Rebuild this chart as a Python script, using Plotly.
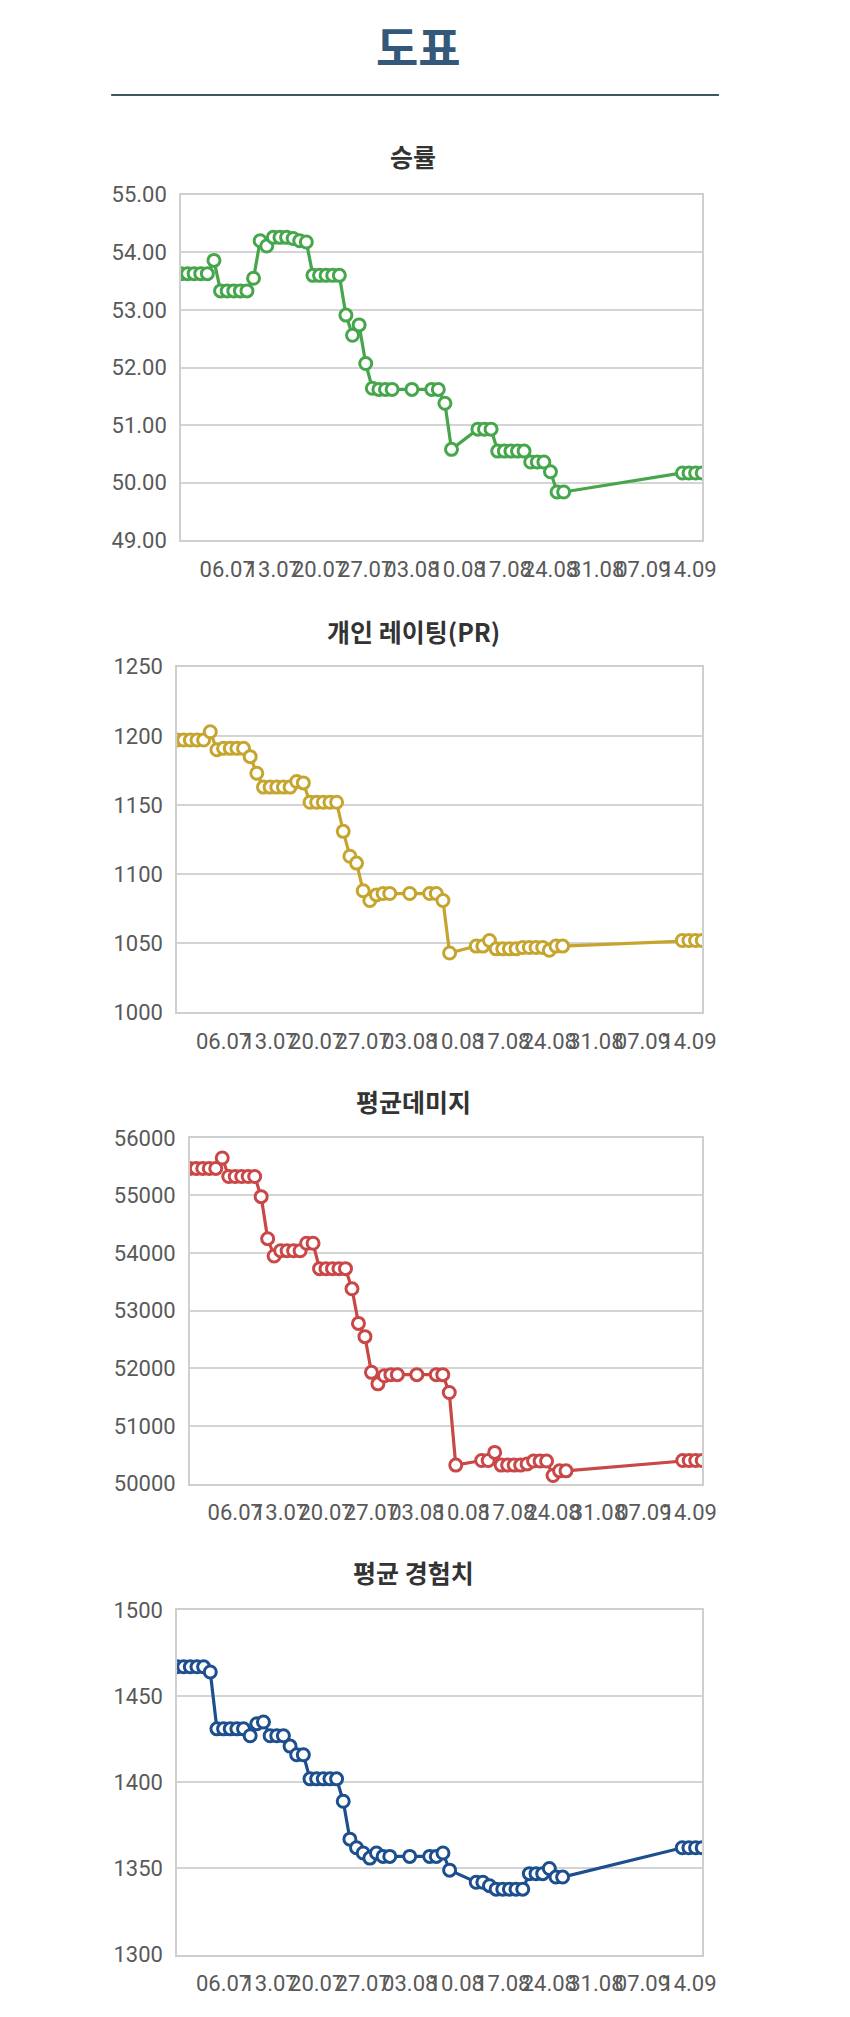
import plotly.graph_objects as go
from plotly.subplots import make_subplots

# measurement dates (one point per recorded day)
dates = [
    "2024-06-29", "2024-06-30", "2024-07-01", "2024-07-02", "2024-07-03", "2024-07-04",
    "2024-07-05", "2024-07-06", "2024-07-07", "2024-07-08", "2024-07-09", "2024-07-10",
    "2024-07-11", "2024-07-12", "2024-07-13", "2024-07-14", "2024-07-15", "2024-07-16",
    "2024-07-17", "2024-07-18", "2024-07-19", "2024-07-20", "2024-07-21", "2024-07-22",
    "2024-07-23", "2024-07-24", "2024-07-25", "2024-07-26", "2024-07-27", "2024-07-28",
    "2024-07-29", "2024-07-30", "2024-07-31", "2024-08-03", "2024-08-06", "2024-08-07",
    "2024-08-08", "2024-08-09", "2024-08-13", "2024-08-14", "2024-08-15", "2024-08-16",
    "2024-08-17", "2024-08-18", "2024-08-19", "2024-08-20", "2024-08-21", "2024-08-22",
    "2024-08-23", "2024-08-24", "2024-08-25", "2024-08-26", "2024-09-13", "2024-09-14",
    "2024-09-15", "2024-09-16",
]

# weekly tick marks on the date axis
tick_dates = ["2024-07-06", "2024-07-13", "2024-07-20", "2024-07-27", "2024-08-03", "2024-08-10",
              "2024-08-17", "2024-08-24", "2024-08-31", "2024-09-07", "2024-09-14"]
tick_labels = ["06.07", "13.07", "20.07", "27.07", "03.08", "10.08",
               "17.08", "24.08", "31.08", "07.09", "14.09"]

win_rate = [
    53.63, 53.63, 53.63, 53.63, 53.63, 53.86, 53.33, 53.33, 53.33, 53.33, 53.33, 53.55,
    54.20, 54.11, 54.26, 54.26, 54.26, 54.24, 54.20, 54.18, 53.60, 53.60, 53.60, 53.60,
    53.60, 52.91, 52.56, 52.74, 52.07, 51.64, 51.62, 51.62, 51.62, 51.62, 51.62, 51.62,
    51.38, 50.58, 50.93, 50.93, 50.93, 50.55, 50.55, 50.55, 50.55, 50.55, 50.36, 50.36,
    50.36, 50.19, 49.84, 49.84, 50.17, 50.17, 50.17, 50.17,
]

personal_rating = [
    1197, 1197, 1197, 1197, 1197, 1203, 1190, 1191, 1191, 1191, 1191, 1185,
    1173, 1163, 1163, 1163, 1163, 1163, 1167, 1166, 1152, 1152, 1152, 1152,
    1152, 1131, 1113, 1108, 1088, 1081, 1085, 1086, 1086, 1086, 1086, 1086,
    1081, 1043, 1048, 1048, 1052, 1046, 1046, 1046, 1046, 1047, 1047, 1047,
    1047, 1045, 1048, 1048, 1052, 1052, 1052, 1052,
]

avg_damage = [
    55470, 55470, 55470, 55470, 55470, 55650, 55330, 55330, 55330, 55330, 55330, 54980,
    54250, 53950, 54040, 54040, 54040, 54040, 54170, 54170, 53730, 53730, 53730, 53730,
    53730, 53380, 52780, 52550, 51930, 51730, 51870, 51890, 51890, 51890, 51890, 51890,
    51580, 50320, 50400, 50400, 50540, 50320, 50320, 50320, 50320, 50340, 50390, 50390,
    50390, 50140, 50220, 50220, 50400, 50400, 50400, 50400,
]

avg_exp = [
    1467, 1467, 1467, 1467, 1467, 1464, 1431, 1431, 1431, 1431, 1431, 1427,
    1434, 1435, 1427, 1427, 1427, 1421, 1416, 1416, 1402, 1402, 1402, 1402,
    1402, 1389, 1367, 1362, 1359, 1356, 1359, 1357, 1357, 1357, 1357, 1357,
    1359, 1349, 1342, 1342, 1340, 1338, 1338, 1338, 1338, 1338, 1347, 1347,
    1347, 1350, 1345, 1345, 1362, 1362, 1362, 1362,
]

chart_titles = ["승률", "개인 레이팅(PR)", "평균데미지", "평균 경험치"]
series = [win_rate, personal_rating, avg_damage, avg_exp]
line_colors = ["#46a64b", "#c6a52f", "#c94747", "#1d4e8d"]
y_ranges = [[49, 55], [1000, 1250], [50000, 56000], [1300, 1500]]
y_dticks = [1, 50, 1000, 50]
y_formats = [".2f", "d", "d", "d"]

W, H = 850, 2017
# plot boxes in page pixels: left, right, top, bottom
boxes = [(184, 714, 185, 535), (180, 714, 663, 1013), (193, 714, 1140, 1490), (180, 714, 1618, 1967)]
title_y = [146, 627, 1103, 1580]

fig = make_subplots(rows=4, cols=1)

for i, (vals, color) in enumerate(zip(series, line_colors)):
    fig.add_trace(go.Scatter(
        x=dates, y=vals, mode="lines+markers",
        line=dict(color=color, width=3.2),
        marker=dict(size=12, color="white", line=dict(color=color, width=3)),
        showlegend=False, hoverinfo="x+y"), row=i + 1, col=1)

    l, r, t, b = boxes[i]
    fig.update_xaxes(
        domain=[l / W, r / W], type="date",
        range=["2024-06-29", "2024-09-16"],
        tickmode="array", tickvals=tick_dates, ticktext=tick_labels,
        tickangle=0, showgrid=False, zeroline=False,
        showline=True, mirror=True, linecolor="#cfcfcf", linewidth=1.5,
        ticks="", ticklabelstandoff=8,
        tickfont=dict(family="Roboto", size=22, color="#595959"),
        row=i + 1, col=1)
    fig.update_yaxes(
        domain=[1 - b / H, 1 - t / H], range=y_ranges[i], dtick=y_dticks[i],
        tickformat=y_formats[i], showgrid=True, gridcolor="#d4d4d4", gridwidth=1.5,
        zeroline=False, showline=True, mirror=True, linecolor="#cfcfcf", linewidth=1.5,
        ticks="", ticklabelstandoff=8,
        tickfont=dict(family="Roboto", size=22, color="#595959"),
        row=i + 1, col=1)

    # chart titles sit centred on the page, not on the plot box
    fig.add_annotation(
        text="<b>%s</b>" % chart_titles[i], xref="paper", yref="paper",
        x=420 / W, y=1 - title_y[i] / H, xanchor="center", yanchor="middle",
        showarrow=False, font=dict(family="Noto Sans CJK KR", size=25, color="#333333"))

# page heading and rule
fig.add_annotation(
    text="<b>도표</b>", xref="paper", yref="paper", x=0.5, y=1 - 33 / H,
    xanchor="center", yanchor="middle", showarrow=False,
    font=dict(family="Noto Sans CJK KR", size=46, color="#34587a"))
fig.add_shape(type="line", xref="paper", yref="paper",
              x0=113 / W, x1=731 / W, y0=1 - 84 / H, y1=1 - 84 / H,
              line=dict(color="#3e5662", width=2))

fig.update_layout(
    width=W, height=H,
    margin=dict(l=0, r=0, t=0, b=0),
    paper_bgcolor="white", plot_bgcolor="white",
    font=dict(family="Roboto"),
)

fig.write_html("out.html", config={"displayModeBar": False},
               post_script="document.body.style.margin='0';document.body.style.overflow='hidden';")
